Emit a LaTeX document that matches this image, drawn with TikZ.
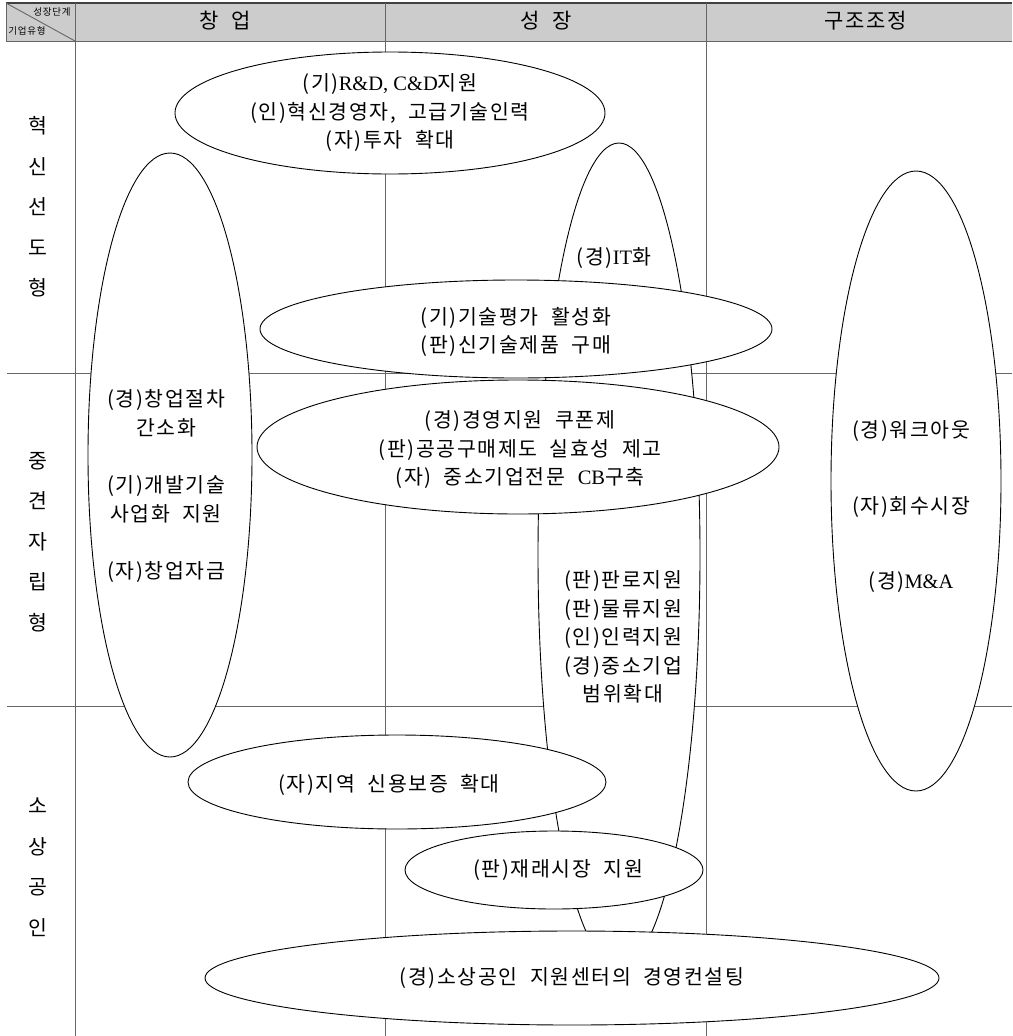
\documentclass[tikz,border=0pt]{standalone}
\usepackage{fontspec}
\setmainfont[LetterSpace=8, WordSpace=2]{Noto Sans CJK KR}
\newfontfamily\lat{Liberation Serif}
\usetikzlibrary{shapes.geometric}
\tikzset{
  ell/.style={ellipse, draw=black, fill=white, line width=0.9pt, inner sep=0pt, outer sep=0pt},
  txt/.style={align=center, inner sep=0pt, font=\fontsize{20.5}{28.5}\selectfont},
  rowlab/.style={align=center, inner sep=0pt, font=\fontsize{20.5}{40.5}\selectfont},
  hdtxt/.style={inner sep=0pt, font=\fontsize{21}{24}\selectfont},
  smalltxt/.style={inner sep=0pt, font=\fontsize{9.5}{11}\selectfont},
  grid/.style={draw=black!60, line width=0.9pt},
}
\begin{document}
\begin{tikzpicture}[x=1pt, y=-1pt]
\useasboundingbox (0,0) rectangle (1012,1036);
% header
\fill[black!20] (6,3) rectangle (1012,41);
\draw[grid] (6,41) -- (1012,41);
\draw[draw=black!75, line width=1.8pt] (6,3) -- (1012,3);
\draw[grid] (6,3) -- (6,41);
\draw[grid] (6,3) -- (75,41);
% grid
\draw[grid] (75,3) -- (75,1036);
\draw[grid] (385,3) -- (385,1036);
\draw[grid] (706,3) -- (706,1036);
\draw[grid] (7,373) -- (1012,373);
\draw[grid] (7,706) -- (1012,706);
% header texts
\node[smalltxt] (hs) at (52,12) {성장단계};
\node[smalltxt] (hg) at (27,31) {기업유형};
\node[hdtxt] (h1) at (225,21) {창 업};
\node[hdtxt] (h2) at (546,21) {성 장};
\node[hdtxt] (h3) at (866,21) {구조조정};
% row labels
\node[rowlab] (r1) at (38,207) {혁\\신\\선\\도\\형};
\node[rowlab] (r2) at (38,542) {중\\견\\자\\립\\형};
\node[rowlab] (r3) at (38,867) {소\\상\\공\\인};
% ellipses
\node[ell, minimum width=162pt, minimum height=824pt] (e3) at (619,555) {};
\node[ell, minimum width=430pt, minimum height=122pt] (e1) at (390,113) {};
\node[ell, minimum width=164pt, minimum height=604pt] (e2) at (170,455) {};
\node[ell, minimum width=170pt, minimum height=620pt] (e4) at (916,481) {};
\node[ell, minimum width=512pt, minimum height=98pt] (e5) at (516,329) {};
\node[ell, minimum width=522pt, minimum height=134pt] (e6) at (518,447) {};
\node[ell, minimum width=418pt, minimum height=94pt] (e7) at (397,782) {};
\node[ell, minimum width=298pt, minimum height=78pt] (e8) at (554,870) {};
\node[ell, minimum width=734pt, minimum height=94pt] (e9) at (572,978) {};
% texts
\node[txt] (t1) at (390,113) {(기){\lat R\&D, C\&D}지원\\(인)혁신경영자, 고급기술인력\\(자)투자 확대};
\node[txt] (t2) at (166,486) {(경)창업절차\\간소화\\[29pt](기)개발기술\\사업화 지원\\[29pt](자)창업자금};
\node[txt] (t3a) at (614,258) {(경){\lat IT}화};
\node[txt] (t3b) at (623,637) {(판)판로지원\\(판)물류지원\\(인)인력지원\\(경)중소기업\\범위확대};
\node[txt] (t4) at (911,507) {(경)워크아웃\\[47pt](자)회수시장\\[47pt](경){\lat M\&A}};
\node[txt] (t5) at (516,332) {(기)기술평가 활성화\\(판)신기술제품 구매};
\node[txt] (t6) at (520,450) {(경)경영지원 쿠폰제\\(판)공공구매제도 실효성 제고\\(자) 중소기업전문 {\lat CB}구축};
\node[txt] (t7) at (389,785) {(자)지역 신용보증 확대};
\node[txt] (t8) at (558,870) {(판)재래시장 지원};
\node[txt] (t9) at (572,978) {(경)소상공인 지원센터의 경영컨설팅};
\end{tikzpicture}
\end{document}
